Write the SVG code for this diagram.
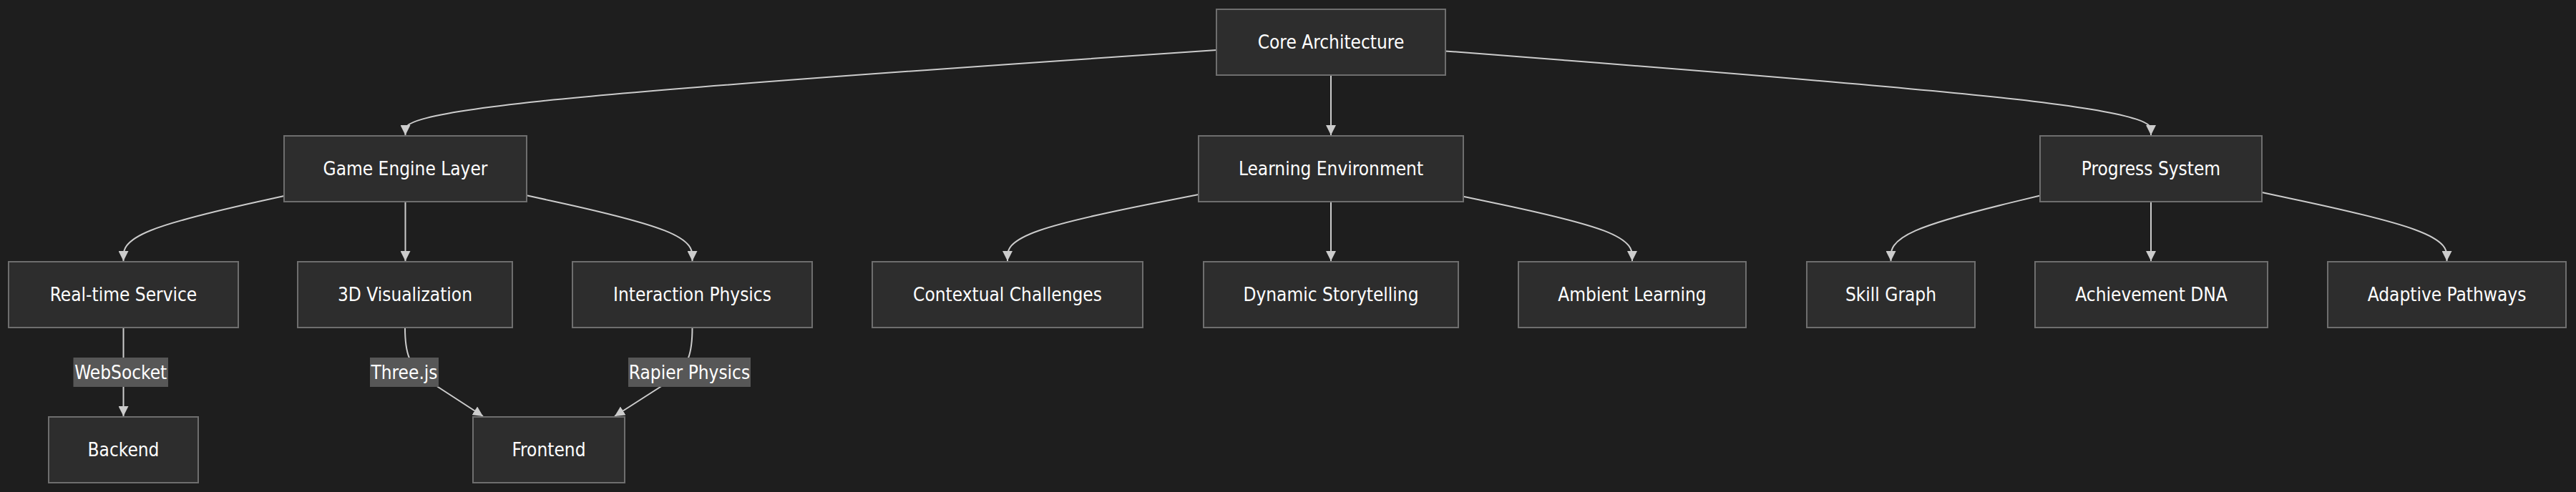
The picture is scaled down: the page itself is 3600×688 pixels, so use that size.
<svg xmlns="http://www.w3.org/2000/svg" width="3600" height="688" viewBox="0 0 3600 688">
<style>
.node rect{fill:#2d2d2d;stroke:#6e6e6e;stroke-width:2}
.node text,.elabel text{font-family:"DejaVu Sans Condensed","Liberation Sans",sans-serif;font-size:26px;fill:#ffffff;text-anchor:middle;dominant-baseline:central}
.edge{fill:none;stroke:#cccccc;stroke-width:2;marker-end:url(#arrow)}
.elabel rect{fill:#575757}
</style>
<defs>
<marker id="arrow" viewBox="0 0 10 10" refX="10" refY="5" markerUnits="userSpaceOnUse" markerWidth="14" markerHeight="14" orient="auto">
<path d="M0,0 L10,5 L0,10 z" fill="#cccccc"/>
</marker>
</defs>
<rect x="0" y="0" width="3600" height="688" fill="#1e1e1e"/>
<g id="connectors">
<path class="edge" d="M1700,70 L1511.1,82.9 C1322.2,95.8 944.3,121.7 755.4,141.5 C566.5,161.3 566.5,175.2 566.5,182.1 L566.5,189"/>
<path class="edge" d="M1860,105 L1860,189"/>
<path class="edge" d="M2020,71.4 L2184.3,84.1 C2348.7,96.8 2677.3,122.1 2841.7,141.7 C3006,161.3 3006,175.2 3006,182.1 L3006,189"/>
<path class="edge" d="M397,273.9 L359.6,282.3 C322.2,290.6 247.3,307.3 209.9,322.5 C172.5,337.7 172.5,351.3 172.5,358.2 L172.5,365"/>
<path class="edge" d="M566.5,282 L566.5,365"/>
<path class="edge" d="M736,273.2 L774.6,281.7 C813.2,290.1 890.3,307.1 928.9,322.4 C967.5,337.7 967.5,351.3 967.5,358.2 L967.5,365"/>
<path class="edge" d="M1675,272 L1630.5,280.7 C1586,289.3 1497,306.7 1452.5,322.2 C1408,337.7 1408,351.3 1408,358.2 L1408,365"/>
<path class="edge" d="M1860,282 L1860,365"/>
<path class="edge" d="M2045,274.7 L2084.3,282.9 C2123.7,291.1 2202.3,307.6 2241.7,322.6 C2281,337.7 2281,351.3 2281,358.2 L2281,365"/>
<path class="edge" d="M2851,273.5 L2816.3,281.9 C2781.5,290.3 2712,307.2 2677.3,322.4 C2642.5,337.7 2642.5,351.3 2642.5,358.2 L2642.5,365"/>
<path class="edge" d="M3006,282 L3006,365"/>
<path class="edge" d="M3161,269 L3204.1,278.2 C3247.2,287.3 3333.3,305.7 3376.4,321.7 C3419.5,337.7 3419.5,351.3 3419.5,358.2 L3419.5,365"/>
<path class="edge" d="M172.5,458 L172.5,582"/>
<path class="edge" d="M566,458 C566,495 572,510 595,530 L675,582"/>
<path class="edge" d="M967.5,458 C967.5,495 962,510 940,530 L859,582"/>
<g class="elabel"><rect x="102.5" y="500" width="132.5" height="41"/><text x="168.75" y="520.5">WebSocket</text></g>
<g class="elabel"><rect x="517" y="500" width="96" height="41"/><text x="565" y="520.5">Three.js</text></g>
<g class="elabel"><rect x="878" y="500" width="171" height="41"/><text x="963.5" y="520.5">Rapier Physics</text></g>
</g>
<g id="core" class="node"><rect x="1700" y="13" width="320" height="92"/><text x="1860" y="59">Core Architecture</text></g>
<g id="game" class="node"><rect x="397" y="190" width="339" height="92"/><text x="566.5" y="236">Game Engine Layer</text></g>
<g id="learning" class="node"><rect x="1675" y="190" width="370" height="92"/><text x="1860" y="236">Learning Environment</text></g>
<g id="progress" class="node"><rect x="2851" y="190" width="310" height="92"/><text x="3006" y="236">Progress System</text></g>
<g id="realtime" class="node"><rect x="12" y="366" width="321" height="92"/><text x="172.5" y="412">Real-time Service</text></g>
<g id="vis3d" class="node"><rect x="416" y="366" width="300" height="92"/><text x="566" y="412">3D Visualization</text></g>
<g id="physics" class="node"><rect x="800" y="366" width="335" height="92"/><text x="967.5" y="412">Interaction Physics</text></g>
<g id="contextual" class="node"><rect x="1219" y="366" width="378" height="92"/><text x="1408" y="412">Contextual Challenges</text></g>
<g id="storytelling" class="node"><rect x="1682" y="366" width="356" height="92"/><text x="1860" y="412">Dynamic Storytelling</text></g>
<g id="ambient" class="node"><rect x="2122" y="366" width="318" height="92"/><text x="2281" y="412">Ambient Learning</text></g>
<g id="skill" class="node"><rect x="2525" y="366" width="235" height="92"/><text x="2642.5" y="412">Skill Graph</text></g>
<g id="achievement" class="node"><rect x="2844" y="366" width="325" height="92"/><text x="3006.5" y="412">Achievement DNA</text></g>
<g id="adaptive" class="node"><rect x="3253" y="366" width="333" height="92"/><text x="3419.5" y="412">Adaptive Pathways</text></g>
<g id="backend" class="node"><rect x="68" y="583" width="209" height="92"/><text x="172.5" y="629">Backend</text></g>
<g id="frontend" class="node"><rect x="661" y="583" width="212" height="92"/><text x="767" y="629">Frontend</text></g>
</svg>
